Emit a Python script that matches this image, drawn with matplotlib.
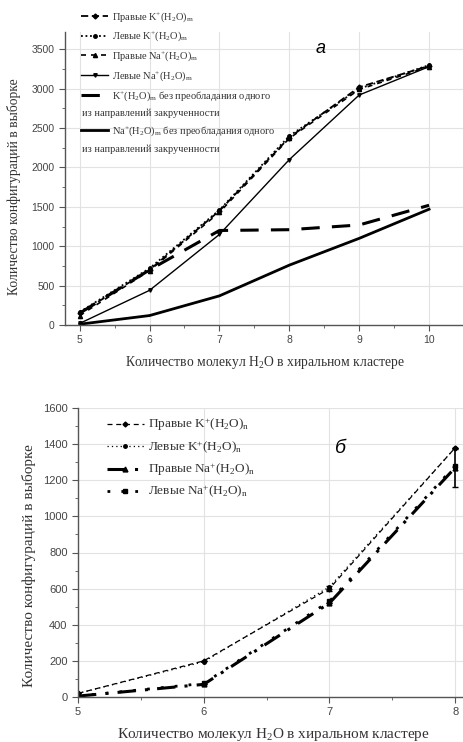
import matplotlib
matplotlib.use("Agg")
import matplotlib.pyplot as plt
from matplotlib.lines import Line2D
import numpy as np

plt.rcParams['font.family'] = ['Liberation Serif', 'DejaVu Serif']
plt.rcParams['mathtext.fontset'] = 'custom'
plt.rcParams['mathtext.rm'] = 'Liberation Serif'
plt.rcParams['mathtext.it'] = 'Liberation Serif:italic'

# ---------------- data: panel a ----------------
x_a = [5, 6, 7, 8, 9, 10]
right_K_a = [150, 700, 1450, 2380, 3020, 3290]
left_K_a = [165, 720, 1460, 2400, 3000, 3300]
right_Na_a = [120, 690, 1430, 2370, 2990, 3280]
left_Na_a = [20, 440, 1150, 2100, 2920, 3280]
K_nopref_a = [150, 700, 1200, 1210, 1270, 1520]
Na_nopref_a = [10, 120, 370, 760, 1100, 1470]

labels_a = [r'Правые K$^{+}$(H$_{2}$O)$_{\mathrm{m}}$',
            r'Левые K$^{+}$(H$_{2}$O)$_{\mathrm{m}}$',
            r'Правые Na$^{+}$(H$_{2}$O)$_{\mathrm{m}}$',
            r'Левые Na$^{+}$(H$_{2}$O)$_{\mathrm{m}}$',
            r'K$^{+}$(H$_{2}$O)$_{\mathrm{m}}$ без преобладания одного',
            r'Na$^{+}$(H$_{2}$O)$_{\mathrm{m}}$ без преобладания одного']
cont_label = 'из направлений закрученности'

# ---------------- data: panel b ----------------
x_b = [5, 6, 7, 8]
right_K_b = [20, 200, 600, 1380]
left_K_b = [20, 195, 610, 1380]
right_Na_b = [5, 70, 520, 1270]
left_Na_b = [5, 75, 530, 1280]
right_K_b_err = [0, 0, 15, 0]
right_Na_b_err = [0, 0, 0, 105]

labels_b = [r'Правые K$^{+}$(H$_{2}$O)$_{\mathrm{n}}$',
            r'Левые K$^{+}$(H$_{2}$O)$_{\mathrm{n}}$',
            r'Правые Na$^{+}$(H$_{2}$O)$_{\mathrm{n}}$',
            r'Левые Na$^{+}$(H$_{2}$O)$_{\mathrm{n}}$']

ylabel = 'Количество конфигураций в выборке'
xlabel = r'Количество молекул H$_{2}$O в хиральном кластере'

W, H = 464, 742
fig = plt.figure(figsize=(W / 100, H / 100), dpi=100)


def px_axes(left, top, right, bottom):
    return fig.add_axes([left / W, 1 - bottom / H, (right - left) / W, (bottom - top) / H])


def style(ax, fs):
    for s in ['top', 'right']:
        ax.spines[s].set_visible(False)
    for s in ['left', 'bottom']:
        ax.spines[s].set_color('#555555')
        ax.spines[s].set_linewidth(1.0)
    ax.grid(True, color='#e2e2e2', lw=0.8)
    ax.set_axisbelow(True)
    ax.tick_params(which='both', direction='out', colors='#555555', labelcolor='#444444',
                   labelsize=fs)
    ax.tick_params(which='major', length=4)
    ax.tick_params(which='minor', length=2.5)
    for lab in ax.get_xticklabels() + ax.get_yticklabels():
        lab.set_family('Liberation Sans')


# ---------------- panel a ----------------
ax1 = px_axes(65, 32, 464, 325)
c = 'black'
l1, = ax1.plot(x_a, right_K_a, color=c, lw=1.3, ls=(0, (4, 2)), marker='D', ms=2.5)
l2, = ax1.plot(x_a, left_K_a, color=c, lw=1.3, ls=(0, (1, 1.5)), marker='o', ms=2.5)
l3, = ax1.plot(x_a, right_Na_a, color=c, lw=1.2, ls=(0, (3, 3)), marker='^', ms=3)
l4, = ax1.plot(x_a, left_Na_a, color=c, lw=1.0, ls='-', marker='v', ms=2.5)
l5, = ax1.plot(x_a, K_nopref_a, color=c, lw=2.2, ls=(0, (6, 4)))
l6, = ax1.plot(x_a, Na_nopref_a, color=c, lw=2.0, ls='-')
ax1.set_xlim(4.79, 10.48)
ax1.set_ylim(0, 3720)
ax1.set_xticks([5, 6, 7, 8, 9, 10])
ax1.set_xticks([5.5, 6.5, 7.5, 8.5, 9.5, 10.5], minor=True)
ax1.set_yticks([0, 500, 1000, 1500, 2000, 2500, 3000, 3500])
ax1.set_yticks(np.arange(250, 3720, 500), minor=True)
style(ax1, 7.5)
ax1.set_ylabel(ylabel, fontsize=9.8, color='#333333')
ax1.set_xlabel(xlabel, fontsize=9.8, color='#333333')
ax1.xaxis.set_label_coords((265 - 65) / 399, -(354 - 325) / 293)
ax1.yaxis.set_label_coords(-(65 - 21) / 399, (325 - 187) / 293)
ax1.text(0.64, 0.945, 'a', transform=ax1.transAxes, fontsize=13, style='italic',
         family='Liberation Sans', ha='center', va='center')

blank = Line2D([], [], color='none')
hnd_a = [l1, l2, l3, l4, l5, blank, l6, blank]
lab_a = labels_a[:5] + [' '] + [labels_a[5], ' ']
leg1 = ax1.legend(hnd_a, lab_a, loc='upper left', bbox_to_anchor=(76 / W, 1 - 5 / H),
                  bbox_transform=fig.transFigure, frameon=False, fontsize=7.5,
                  handlelength=2.6, handletextpad=0.4, labelspacing=0.6, borderpad=0)
for t in leg1.get_texts():
    t.set_color('#333333')
fig.canvas.draw()
texts = leg1.get_texts()
inv = fig.transFigure.inverted()
for idx in [5, 7]:
    bb = texts[idx].get_window_extent()
    fy = inv.transform((0, (bb.y0 + bb.y1) / 2))[1]
    fig.text(82 / W, fy, cont_label, fontsize=7.5, color='#333333', va='center')

# ---------------- panel b ----------------
ax2 = px_axes(78, 408, 464, 697)
m1 = ax2.errorbar(x_b, right_K_b, yerr=right_K_b_err, color=c, lw=0.9, ls=(0, (4, 3)),
                  marker='D', ms=2.5, capsize=2, elinewidth=0.9)
m2, = ax2.plot(x_b, left_K_b, color=c, lw=0.9, ls=(0, (1, 2.5)), marker='o', ms=2.5)
m3 = ax2.errorbar(x_b, right_Na_b, yerr=right_Na_b_err, color=c, lw=2.2, ls=(0, (6, 3, 1, 3)),
                  marker='^', ms=3.5, capsize=2.5, elinewidth=1.2)
m4, = ax2.plot(x_b, left_Na_b, color=c, lw=2.0, ls=(0, (1, 4)), marker='s', ms=2.5)
ax2.set_xlim(5, 8.07)
ax2.set_ylim(0, 1600)
ax2.set_xticks([5, 6, 7, 8])
ax2.set_xticks([5.5, 6.5, 7.5], minor=True)
ax2.set_yticks(np.arange(0, 1601, 200))
ax2.set_yticks(np.arange(100, 1600, 200), minor=True)
style(ax2, 8)
ax2.set_ylabel(ylabel, fontsize=11, color='#333333')
ax2.set_xlabel(xlabel, fontsize=11, color='#333333')
ax2.xaxis.set_label_coords((273 - 78) / 386, -(726 - 697) / 289)
ax2.yaxis.set_label_coords(-(78 - 36) / 386, (697 - 566) / 289)
ax2.text(0.68, 0.86, 'б', transform=ax2.transAxes, fontsize=14, style='italic',
         family='Liberation Sans', ha='center', va='center')

leg2 = ax2.legend([m1[0], m2, m3[0], m4], labels_b, loc='upper left',
                  bbox_to_anchor=(100 / W, 1 - 410 / H),
                  bbox_transform=fig.transFigure, frameon=False, fontsize=9.5,
                  handlelength=2.8, handletextpad=0.3, labelspacing=0.45, borderpad=0)
for t in leg2.get_texts():
    t.set_color('#333333')

fig.savefig('out.png', dpi=100)
